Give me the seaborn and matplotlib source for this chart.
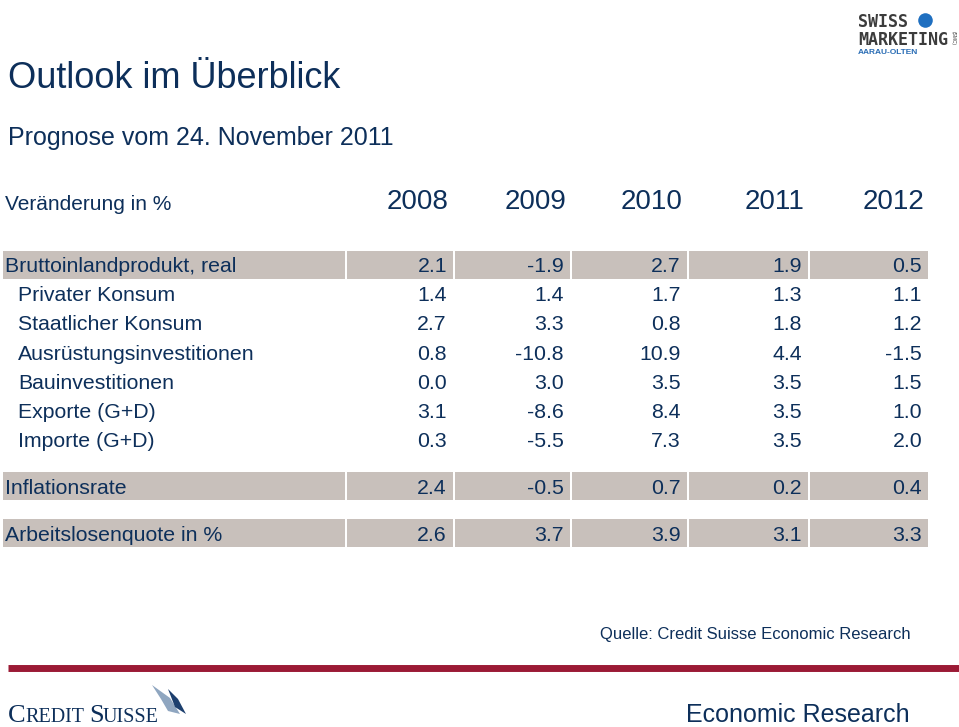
import numpy as np
import pandas as pd
import seaborn as sns
import matplotlib.pyplot as plt

# table content
labels = ["Bruttoinlandprodukt, real", "Privater Konsum", "Staatlicher Konsum",
          "Ausrüstungsinvestitionen", "Bauinvestitionen", "Exporte (G+D)",
          "Importe (G+D)", "Inflationsrate", "Arbeitslosenquote in %"]
years = ["2008", "2009", "2010", "2011", "2012"]
v2008 = [2.1, 1.4, 2.7, 0.8, 0.0, 3.1, 0.3, 2.4, 2.6]
v2009 = [-1.9, 1.4, 3.3, -10.8, 3.0, -8.6, -5.5, -0.5, 3.7]
v2010 = [2.7, 1.7, 0.8, 10.9, 3.5, 8.4, 7.3, 0.7, 3.9]
v2011 = [1.9, 1.3, 1.8, 4.4, 3.5, 3.5, 3.5, 0.2, 3.1]
v2012 = [0.5, 1.1, 1.2, -1.5, 1.5, 1.0, 2.0, 0.4, 3.3]
highlight = [True, False, False, False, False, False, False, True, True]
group = [0, 0, 0, 0, 0, 0, 0, 1, 2]

df = pd.DataFrame({"label": labels, "2008": v2008, "2009": v2009, "2010": v2010,
                   "2011": v2011, "2012": v2012, "hl": highlight, "grp": group})

sns.set_theme(style="white")
plt.rcParams["font.family"] = ["Liberation Sans", "DejaVu Sans"]

NAVY = "#0d2f5a"
GRAY = "#c8c0bb"
RED = "#9b1a35"
VA = "center_baseline"

fig = plt.figure(figsize=(9.59, 7.27), dpi=100)
ax = fig.add_axes([0, 0, 1, 1])
ax.set_xlim(0, 959)
ax.set_ylim(727, 0)
ax.axis("off")

# column layout (pixels)
lab_left, lab_right = 3, 345
col_left = [347, 455, 572, 689, 810]
col_right = [453, 570, 687, 808, 928]
row_y = 264.5 + np.arange(len(df)) * 29.2 + df["grp"].values * 17.5

# header texts
ax.text(8, 75, "Outlook im Überblick", fontsize=26, color=NAVY, va=VA)
ax.text(8, 135, "Prognose vom 24. November 2011", fontsize=18, color=NAVY, va=VA)
ax.text(5, 203, "Veränderung in %", fontsize=15, color=NAVY, va=VA)
for j, yr in enumerate(years):
    ax.text(col_right[j] - 4, 199, yr, fontsize=20, color=NAVY, ha="right", va=VA)

# gray bands for highlighted rows
mask = df["hl"].values
ax.barh(row_y[mask], lab_right - lab_left, left=lab_left, height=28,
        color=GRAY, linewidth=0)
for j in range(len(years)):
    ax.barh(row_y[mask], col_right[j] - col_left[j], left=col_left[j],
            height=28, color=GRAY, linewidth=0)

# rows
for i, row in df.iterrows():
    x0 = 5 if row["hl"] else 18
    ax.text(x0, row_y[i], row["label"], fontsize=15.3, color=NAVY, va=VA)
    for j, yr in enumerate(years):
        ax.text(col_right[j] - 6, row_y[i], f"{row[yr]:.1f}", fontsize=15.3,
                color=NAVY, ha="right", va=VA)

# source and footer
ax.text(600, 633, "Quelle: Credit Suisse Economic Research", fontsize=12,
        color=NAVY, va=VA)
ax.plot([8, 959], [668, 668], color=RED, linewidth=5, solid_capstyle="butt")
ax.text(910, 713, "Economic Research", fontsize=18, color=NAVY, ha="right", va=VA)

# Credit Suisse logo
serif = "Liberation Serif"
ax.text(8, 722, "C", fontsize=19, color=NAVY, family=serif, va="baseline")
ax.text(25, 722, "REDIT", fontsize=14.5, color=NAVY, family=serif, va="baseline")
ax.text(89, 722, "S", fontsize=19, color=NAVY, family=serif, va="baseline")
ax.text(103, 722, "UISSE", fontsize=14.5, color=NAVY, family=serif, va="baseline")
ax.fill([152, 170, 180, 168, 161], [685, 698, 714, 711, 699], color="#8fa6c0", linewidth=0)
ax.fill([168, 178, 186, 175], [689, 699, 714, 707], color="#1c3f6e", linewidth=0)

# Swiss Marketing logo
ax.text(858, 20, "SWISS", fontsize=12, color="#3c3c3c", family="DejaVu Sans Mono",
        weight="bold", va=VA)
ax.scatter([925], [20], s=110, color="#1f6fc0", linewidths=0)
ax.text(858, 38, "MARKETING", fontsize=12, color="#3c3c3c", family="DejaVu Sans Mono",
        weight="bold", va=VA)
ax.text(953, 38, "(SMC)", fontsize=3.5, color="#3c3c3c", rotation=270,
        ha="center", va="center")
ax.text(858, 52, "AARAU-OLTEN", fontsize=6, color="#2a6db5", weight="bold", va=VA)

fig.savefig("out.png", dpi=100)
